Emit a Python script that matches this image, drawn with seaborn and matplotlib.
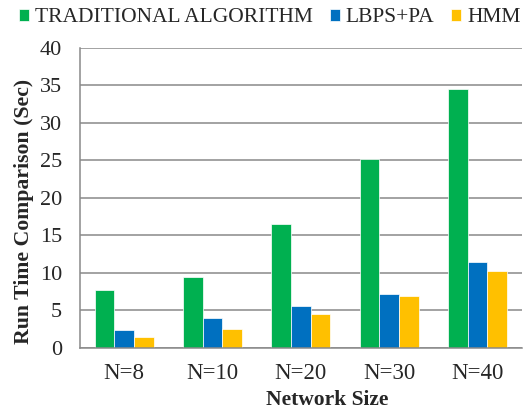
import matplotlib
matplotlib.use("Agg")
import matplotlib.pyplot as plt
import seaborn as sns
import pandas as pd
import numpy as np

categories = ["N=8", "N=10", "N=20", "N=30", "N=40"]
series_names = ["TRADITIONAL ALGORITHM", "LBPS+PA", "HMM"]
traditional = [7.7, 9.4, 16.5, 25.2, 34.5]
lbps_pa = [2.3, 3.9, 5.55, 7.2, 11.45]
hmm = [1.4, 2.45, 4.45, 6.9, 10.25]
colors = ["#00B050", "#0070C0", "#FFC000"]
y_ticks = [0, 5, 10, 15, 20, 25, 30, 35, 40]

sns.set_style("white")
plt.rcParams["font.family"] = ["Liberation Serif", "DejaVu Serif"]

rows = []
for name, vals in zip(series_names, [traditional, lbps_pa, hmm]):
    for c, v in zip(categories, vals):
        rows.append({"Network Size": c, "Run Time": v, "Series": name})
df = pd.DataFrame(rows)

fig = plt.figure(figsize=(5.24, 4.11), dpi=100)
ax = fig.add_axes([80 / 524, 1 - 347.7 / 411, (521.7 - 80) / 524, (347.7 - 47.8) / 411])

sns.barplot(data=df, x="Network Size", y="Run Time", hue="Series",
            order=categories, hue_order=series_names, palette=colors,
            width=0.668, gap=0, ax=ax, edgecolor="white", linewidth=0.5,
            saturation=1, legend=True)

gray = "#898989"
ax.set_ylim(0, 40)
ax.set_xlim(-0.5, len(categories) - 0.5)
ax.set_yticks(y_ticks)
ax.yaxis.grid(True, color=gray, linewidth=1.1)
ax.set_axisbelow(True)
for s in ["top", "right"]:
    ax.spines[s].set_visible(False)
for s in ["left", "bottom"]:
    ax.spines[s].set_color(gray)
    ax.spines[s].set_linewidth(1.1)

ax.tick_params(axis="y", length=4.3, width=1, color=gray, pad=8.5, labelsize=16)
ax.tick_params(axis="x", which="major", length=0, pad=11, labelsize=16.5)
ax.set_xticks(np.arange(-0.5, len(categories), 1.0), minor=True)
ax.tick_params(axis="x", which="minor", length=4.3, width=1, color=gray)

ax.set_xlabel("Network Size", fontsize=15.5, fontweight="bold")
ax.xaxis.set_label_coords(0.56, -0.14)
ax.xaxis.label.set_verticalalignment("top")
ax.set_ylabel("Run Time Comparison (Sec)", fontsize=15.7, fontweight="bold", labelpad=4)
ax.yaxis.label.set_y(0.456)

handles, labels = ax.get_legend_handles_labels()
ax.legend(handles, labels, loc="center left", bbox_to_anchor=(19 / 524, 1 - 18 / 411),
          bbox_transform=fig.transFigure, ncol=3, frameon=False, fontsize=15.5,
          handlelength=0.45, handleheight=0.45, handletextpad=0.28,
          columnspacing=0.8, borderaxespad=0, borderpad=0)

fig.savefig("out.png", dpi=100)
